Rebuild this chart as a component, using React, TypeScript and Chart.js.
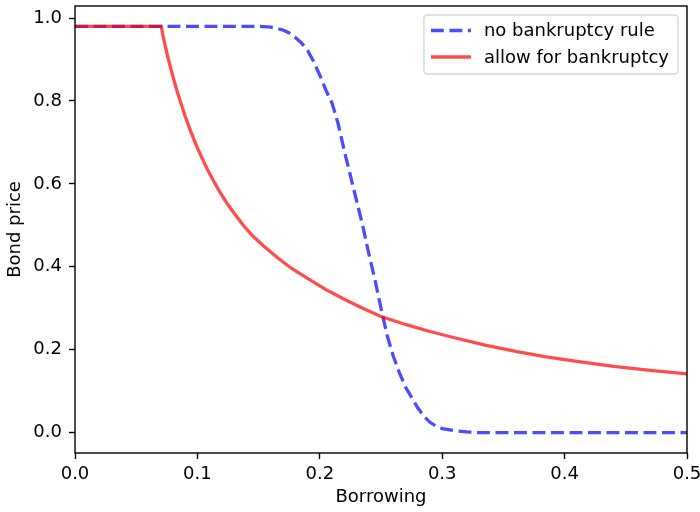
import React, { useEffect, useRef } from "react";
import { Chart, registerables } from "chart.js";

Chart.register(...registerables);

// ---- data ----
const borrowingNoRule = [
  0, 0.15, 0.16, 0.165, 0.17, 0.175, 0.18, 0.185, 0.19, 0.195, 0.2, 0.205, 0.21, 0.215, 0.22,
  0.225, 0.23, 0.235, 0.24, 0.245, 0.25, 0.255, 0.26, 0.265, 0.27, 0.275, 0.28, 0.285, 0.29,
  0.295, 0.3, 0.31, 0.32, 0.33, 0.5,
];
const priceNoRule = [
  0.98, 0.98, 0.978, 0.975, 0.971, 0.964, 0.953, 0.94, 0.922, 0.895, 0.862, 0.826, 0.795, 0.745,
  0.68, 0.62, 0.56, 0.5, 0.432, 0.37, 0.3, 0.235, 0.185, 0.145, 0.11, 0.085, 0.06, 0.04, 0.025,
  0.016, 0.01, 0.005, 0.002, 0.0, 0.0,
];
const borrowingBankrupt = [
  0, 0.0705, 0.072, 0.074, 0.076, 0.078, 0.08, 0.082, 0.084, 0.087, 0.09, 0.094, 0.098, 0.1,
  0.104, 0.108, 0.113, 0.118, 0.124, 0.13, 0.137, 0.145, 0.155, 0.165, 0.177, 0.19, 0.205, 0.22,
  0.235, 0.25, 0.27, 0.29, 0.31, 0.335, 0.36, 0.385, 0.41, 0.44, 0.47, 0.5,
];
const priceBankrupt = [
  0.98, 0.98, 0.955, 0.929, 0.904, 0.881, 0.859, 0.838, 0.818, 0.79, 0.763, 0.731, 0.701, 0.687,
  0.661, 0.636, 0.608, 0.582, 0.554, 0.529, 0.502, 0.475, 0.448, 0.423, 0.396, 0.372, 0.345,
  0.322, 0.3, 0.28, 0.261, 0.244, 0.229, 0.211, 0.196, 0.183, 0.172, 0.16, 0.15, 0.142,
];
const xTicks = [0, 0.1, 0.2, 0.3, 0.4, 0.5];
const yTicks = [0, 0.2, 0.4, 0.6, 0.8, 1.0];
const seriesLabels = ["no bankruptcy rule", "allow for bankruptcy"];
const xLabel = "Borrowing";
const yLabel = "Bond price";
const xRange = [0, 0.5];
const yRange = [-0.049, 1.029];

const FONT = '"DejaVu Sans", sans-serif';
const FS = 18;

const framePlugin = {
  id: "mplFrame",
  afterDraw(chart: any) {
    const { ctx, chartArea: a } = chart;
    ctx.save();
    ctx.strokeStyle = "#000";
    ctx.lineWidth = 1.4;
    ctx.setLineDash([]);
    ctx.strokeRect(a.left, a.top, a.right - a.left, a.bottom - a.top);
    ctx.restore();

    // legend
    ctx.save();
    ctx.font = `${FS}px ${FONT}`;
    const items = chart.data.datasets.map((ds: any) => ({
      label: ds.label,
      color: ds.borderColor,
      dash: ds.borderDash || [],
      width: ds.borderWidth,
    }));
    const pad = 7;
    const handleLen = 40;
    const gap = 13;
    const padRight = 9;
    const rowH = 26.5;
    const maxW = Math.max(...items.map((i: any) => ctx.measureText(i.label).width));
    const boxW = pad + handleLen + gap + maxW + padRight;
    const boxH = 59;
    const right = a.right - 9;
    const top = a.top + 9;
    const left = right - boxW;
    ctx.beginPath();
    if ((ctx as any).roundRect) (ctx as any).roundRect(left, top, boxW, boxH, 3.5);
    else ctx.rect(left, top, boxW, boxH);
    ctx.fillStyle = "rgba(255,255,255,0.8)";
    ctx.fill();
    ctx.strokeStyle = "rgba(204,204,204,0.8)";
    ctx.lineWidth = 1.4;
    ctx.stroke();
    items.forEach((it: any, i: number) => {
      const cy = top + 15.5 + i * rowH;
      ctx.beginPath();
      ctx.setLineDash(it.dash);
      ctx.strokeStyle = it.color;
      ctx.lineWidth = it.width;
      ctx.lineCap = "butt";
      ctx.moveTo(left + pad, cy);
      ctx.lineTo(left + pad + handleLen, cy);
      ctx.stroke();
      ctx.setLineDash([]);
      ctx.fillStyle = "#000";
      ctx.textBaseline = "middle";
      ctx.textAlign = "left";
      ctx.fillText(it.label, left + pad + handleLen + gap, cy + 1);
    });
    ctx.restore();
  },
};

const zeroPad = (s: any) => {
  s.paddingLeft = 0;
  s.paddingRight = 0;
  s.paddingTop = 0;
  s.paddingBottom = 0;
};

export default function App() {
  const ref = useRef<HTMLCanvasElement | null>(null);

  useEffect(() => {
    if (!ref.current) return;
    const chart = new Chart(ref.current, {
      type: "line",
      data: {
        datasets: [
          {
            label: seriesLabels[0],
            data: borrowingNoRule.map((x, i) => ({ x, y: priceNoRule[i] })),
            borderColor: "rgba(0,0,255,0.7)",
            borderWidth: 3.3,
            borderDash: [12.9, 5.6],
            borderCapStyle: "butt",
            pointRadius: 0,
            tension: 0,
            fill: false,
            order: 1,
          },
          {
            label: seriesLabels[1],
            data: borrowingBankrupt.map((x, i) => ({ x, y: priceBankrupt[i] })),
            borderColor: "rgba(255,0,0,0.7)",
            borderWidth: 3.3,
            borderCapStyle: "butt",
            pointRadius: 0,
            tension: 0,
            fill: false,
            order: 0,
          },
        ],
      },
      options: {
        animation: false,
        responsive: true,
        maintainAspectRatio: false,
        layout: { padding: { top: 6, right: 13, left: 0, bottom: 0 } },
        plugins: { legend: { display: false }, tooltip: { enabled: false } },
        scales: {
          x: {
            type: "linear",
            min: xRange[0],
            max: xRange[1],
            afterBuildTicks: (s: any) => {
              s.ticks = xTicks.map((v) => ({ value: v }));
            },
            afterFit: (s: any) => {
              s.height = 59;
              zeroPad(s);
            },
            ticks: {
              font: { family: FONT, size: FS },
              color: "#000",
              padding: 5,
              maxRotation: 0,
              callback: (v: any) => Number(v).toFixed(1),
            },
            grid: {
              drawOnChartArea: false,
              drawTicks: true,
              tickLength: 6,
              tickColor: "#000",
              tickWidth: 1.4,
            },
            border: { display: false },
            title: {
              display: true,
              text: xLabel,
              color: "#000",
              font: { family: FONT, size: FS },
              padding: { top: 0, bottom: 4 },
            },
          },
          y: {
            type: "linear",
            min: yRange[0],
            max: yRange[1],
            afterBuildTicks: (s: any) => {
              s.ticks = yTicks.map((v) => ({ value: v }));
            },
            afterFit: (s: any) => {
              s.width = 75;
              zeroPad(s);
            },
            ticks: {
              font: { family: FONT, size: FS },
              color: "#000",
              padding: 7,
              callback: (v: any) => Number(v).toFixed(1),
            },
            grid: {
              drawOnChartArea: false,
              drawTicks: true,
              tickLength: 6,
              tickColor: "#000",
              tickWidth: 1.4,
            },
            border: { display: false },
            title: {
              display: true,
              text: yLabel,
              color: "#000",
              font: { family: FONT, size: FS },
              padding: { top: 5, bottom: 0 },
            },
          },
        },
      },
      plugins: [framePlugin],
    } as any);
    return () => chart.destroy();
  }, []);

  return (
    <div style={{ position: "fixed", left: 0, top: 0, width: 700, height: 512, background: "#fff" }}>
      <canvas ref={ref} />
    </div>
  );
}
